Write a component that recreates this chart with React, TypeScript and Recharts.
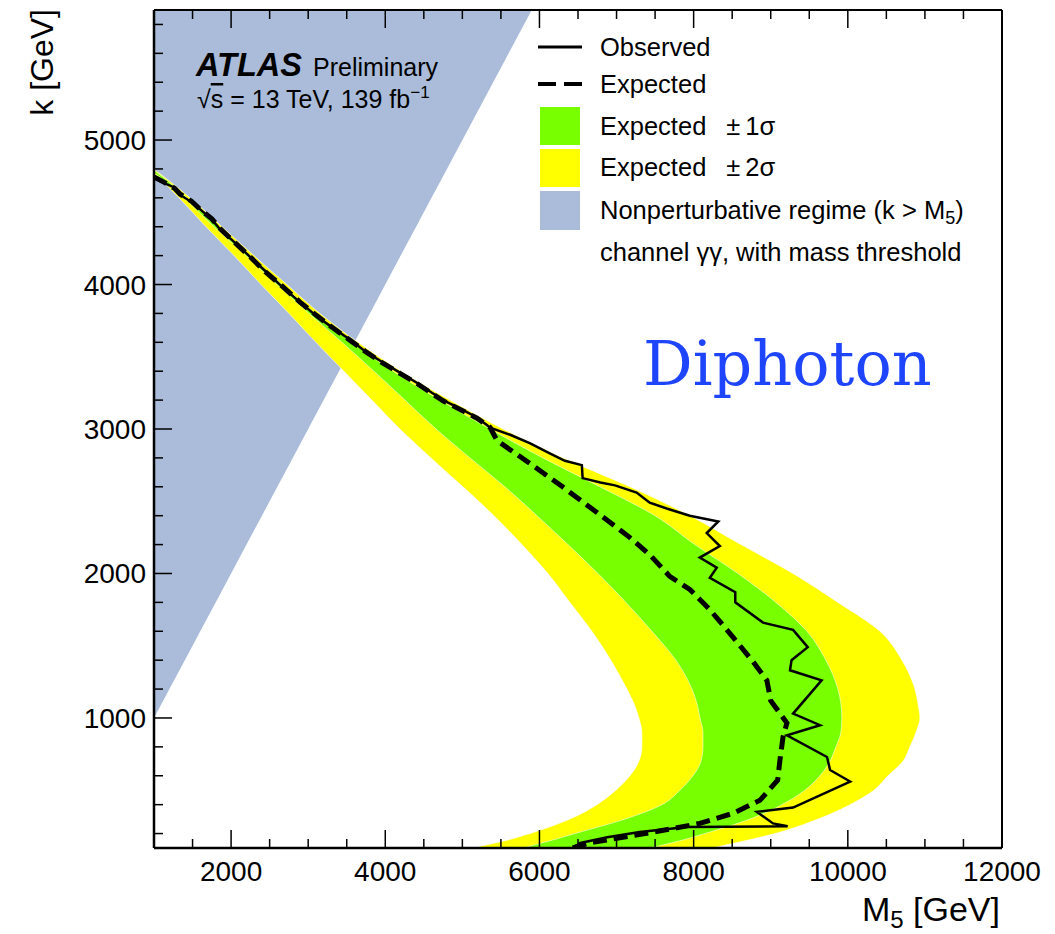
import React from 'react';
import { ComposedChart, Area, Scatter, XAxis, YAxis, Legend, Label } from 'recharts';

const W = 1039;
const H = 926;
const SANS = '"Liberation Sans", Arial, Helvetica, sans-serif';

// ---- axes ----
const X_DOMAIN: [number, number] = [1000, 12000];
const Y_DOMAIN: [number, number] = [100, 5900];
const xMajorTicks = [2000, 4000, 6000, 8000, 10000, 12000];
const xMinorTicks = [1500, 2500, 3000, 3500, 4500, 5000, 5500, 6500, 7000, 7500, 8500, 9000, 9500, 10500, 11000, 11500];
const yMajorTicks = [1000, 2000, 3000, 4000, 5000];
const yMinorTicks = [200, 400, 600, 800, 1200, 1400, 1600, 1800, 2200, 2400, 2600, 2800, 3200, 3400, 3600, 3800, 4200, 4400, 4600, 4800, 5200, 5400, 5600, 5800];

// ---- expected bands: M5 boundaries (GeV) at each k (GeV) ----
const kGrid = [100, 150, 200, 300, 400, 500, 600, 700, 800, 900, 1000, 1100, 1200, 1400, 1600, 1800, 2000, 2200, 2400, 2600, 2800, 3000, 3200, 3400, 3600, 3800, 4000, 4200, 4400, 4600, 4750, 4800];
const yellowLow = [5124, 5552, 5877, 6396, 6746, 6992, 7174, 7290, 7329, 7329, 7290, 7226, 7135, 6927, 6681, 6396, 6110, 5773, 5410, 5008, 4593, 4191, 3827, 3464, 3101, 2751, 2388, 2038, 1674, 1324, 1040, 930];
const greenLow = [5786, 6136, 6460, 7109, 7589, 7822, 7991, 8095, 8121, 8121, 8082, 8043, 7978, 7770, 7459, 7122, 6759, 6370, 5968, 5552, 5099, 4658, 4255, 3853, 3438, 3010, 2595, 2193, 1778, 1389, 1060, 945];
const greenHigh = [7433, 7822, 8147, 8730, 9145, 9443, 9638, 9768, 9845, 9910, 9923, 9910, 9871, 9716, 9469, 9067, 8574, 8017, 7498, 6785, 6045, 5358, 4709, 4100, 3568, 3088, 2660, 2245, 1843, 1428, 1100, 975];
const yellowHigh = [8237, 8665, 9054, 9612, 10027, 10338, 10520, 10715, 10805, 10883, 10935, 10909, 10870, 10702, 10416, 9871, 9288, 8613, 7952, 7174, 6305, 5527, 4839, 4204, 3646, 3153, 2725, 2297, 1882, 1467, 1120, 990];

// ---- nonperturbative regime k > M5 (k rows bounding the region) ----
const nonPertK = [1000, 5900];

// ---- observed limit [M5, k] ----
const observed: [number, number][] = [
  [1000, 4740], [1140, 4700], [1270, 4670], [1340, 4620], [1490, 4570], [1600, 4520], [1750, 4450], [1860, 4380],
  [2050, 4290], [2250, 4190], [2450, 4090], [2670, 3980], [2890, 3880], [3110, 3780], [3320, 3700], [3540, 3620],
  [3760, 3530], [3970, 3460], [4190, 3390], [4410, 3320], [4580, 3260], [4750, 3200], [5010, 3130], [5190, 3080],
  [5360, 3010], [5620, 2960], [5880, 2900], [6140, 2830], [6330, 2780], [6550, 2750], [6560, 2660], [6790, 2630],
  [6980, 2610], [7260, 2560], [7430, 2490], [7650, 2450], [7950, 2400], [8320, 2360], [8170, 2280], [8340, 2190],
  [8080, 2110], [8300, 2040], [8210, 1970], [8540, 1870], [8540, 1800], [8900, 1660], [9290, 1610], [9480, 1490],
  [9270, 1400], [9250, 1330], [9660, 1260], [9290, 1030], [9640, 950], [9210, 880], [9730, 730], [9770, 640],
  [10030, 560], [9290, 380], [8820, 350], [9030, 270], [9220, 250], [7910, 245], [7300, 210], [6880, 175],
  [6530, 135], [6430, 100],
];

// ---- expected limit [M5, k] ----
const expected: [number, number][] = [
  [1000, 4745], [1140, 4705], [1270, 4665], [1340, 4625], [1490, 4575], [1600, 4520], [1750, 4455], [1860, 4385],
  [2050, 4290], [2250, 4190], [2450, 4085], [2670, 3985], [2890, 3880], [3110, 3785], [3320, 3700], [3540, 3615],
  [3760, 3530], [3970, 3455], [4190, 3385], [4410, 3315], [4580, 3255], [4750, 3195], [5010, 3125], [5190, 3075],
  [5360, 3010], [5450, 2920], [5880, 2760], [6300, 2600], [6750, 2420], [7170, 2250], [7430, 2130], [7690, 1980],
  [7950, 1890], [8210, 1750], [8510, 1560], [8770, 1390], [8950, 1260], [9000, 1120], [9210, 965], [9160, 870],
  [9120, 710], [9090, 570], [8860, 430], [8510, 340], [8080, 270], [7430, 205], [6650, 135], [6430, 100],
];

// ---- build tables for the library ----
const kRows = Array.from(new Set([...kGrid, ...nonPertK])).sort((a, b) => a - b);
const bandTable = kRows.map((k) => {
  const i = kGrid.indexOf(k);
  const row: any = { k };
  if (i >= 0) {
    row.y2 = [yellowLow[i], yellowHigh[i]];
    row.g1 = [greenLow[i], greenHigh[i]];
  }
  if (k >= nonPertK[0]) row.np = [X_DOMAIN[0], k];
  return row;
});
const obsTable = observed.map(([m, k]) => ({ m, k }));
const expTable = expected.map(([m, k]) => ({ m, k }));

const YELLOW = '#ffff00';
const GREEN = '#78ff00';
const BLUE = '#aabcd9';

type Side = 'bottom' | 'top' | 'left' | 'right';
const MAJ = 18;
const MIN = 9;

function tickRenderer(side: Side, majors: number[], showLabel: boolean) {
  return (props: any) => {
    const { x, y, payload } = props;
    const v = Number(payload.value);
    const major = majors.includes(v);
    const len = major ? MAJ : MIN;
    let x2 = x;
    let y2 = y;
    if (side === 'bottom') y2 = y - len;
    if (side === 'top') y2 = y + len;
    if (side === 'left') x2 = x + len;
    if (side === 'right') x2 = x - len;
    return (
      <g>
        <line x1={x} y1={y} x2={x2} y2={y2} stroke="#000" strokeWidth={1.5} />
        {showLabel && major && side === 'bottom' && (
          <text x={x} y={y + 33} textAnchor="middle" fontSize={28} fontFamily={SANS} fill="#000">
            {v}
          </text>
        )}
        {showLabel && major && side === 'left' && (
          <text x={x - 8} y={y + 10} textAnchor="end" fontSize={28} fontFamily={SANS} fill="#000">
            {v}
          </text>
        )}
      </g>
    );
  };
}

const XTitle = (props: any) => {
  const vb = props.viewBox || { x: 146, y: 840, width: 848, height: 86 };
  return (
    <text x={vb.x + vb.width - 2} y={vb.y + 73} textAnchor="end" fontSize={34} fontFamily={SANS} fill="#000">
      M<tspan fontSize={24} dy={7}>5</tspan>
      <tspan dy={-7}> [GeV]</tspan>
    </text>
  );
};

const YTitle = (props: any) => {
  const vb = props.viewBox || { x: 0, y: 2, width: 146, height: 838 };
  const tx = vb.x + 45;
  const ty = 1;
  return (
    <text x={tx} y={ty} transform={`rotate(-90, ${tx}, ${ty})`} textAnchor="end" fontSize={32} fontFamily={SANS} fill="#000">
      k [GeV]
    </text>
  );
};

const LEG_FS = 25.5;
const legendRows = [39, 76, 118, 159, 202, 244];

const LegendBox = () => (
  <svg width={W} height={H} style={{ position: 'absolute', left: 0, top: 0, overflow: 'visible' }}>
    <g fontFamily={SANS} fontSize={LEG_FS} fill="#000">
      <line x1={530} x2={574} y1={legendRows[0]} y2={legendRows[0]} stroke="#000" strokeWidth={3} />
      <text x={592} y={legendRows[0] + 9}>Observed</text>

      <line x1={530} x2={574} y1={legendRows[1]} y2={legendRows[1]} stroke="#000" strokeWidth={4} strokeDasharray="18 8" />
      <text x={592} y={legendRows[1] + 9}>Expected</text>

      <rect x={532} y={99} width={40} height={38} fill={GREEN} />
      <text x={592} y={legendRows[2] + 9}>
        Expected<tspan dx={20}>±</tspan>
        <tspan dx={5}>1σ</tspan>
      </text>

      <rect x={532} y={141} width={40} height={38} fill={YELLOW} />
      <text x={592} y={legendRows[3] + 9}>
        Expected<tspan dx={20}>±</tspan>
        <tspan dx={5}>2σ</tspan>
      </text>

      <rect x={532} y={183} width={40} height={39} fill={BLUE} />
      <text x={592} y={legendRows[4] + 9}>
        Nonperturbative regime (k {'>'} M<tspan fontSize={18} dy={5}>5</tspan>
        <tspan dy={-5}>)</tspan>
      </text>

      <text x={592} y={legendRows[5] + 9}>channel γγ, with mass threshold</text>
    </g>
  </svg>
);

const Annotations = () => (
  <svg width={W} height={H} style={{ position: 'absolute', left: 0, top: 0, pointerEvents: 'none' }}>
    <text x={188} y={68} fontFamily={SANS} fontSize={32.5} fontWeight="bold" fontStyle="italic" fill="#000">
      ATLAS
    </text>
    <text x={305} y={68} fontFamily={SANS} fontSize={25} fill="#000">
      Preliminary
    </text>
    <text x={189} y={100} fontFamily={SANS} fontSize={25} fill="#000">
      √<tspan style={{ textDecoration: 'overline' }}>s</tspan> = 13 TeV, 139 fb
      <tspan fontSize={17} dy={-10}>−1</tspan>
    </text>
    <text x={635} y={377} fontFamily={'"DejaVu Serif", "Liberation Serif", serif'} fontSize={62} fill="#1f45fc">
      Diphoton
    </text>
  </svg>
);

const allXTicks = [...xMajorTicks, ...xMinorTicks].sort((a, b) => a - b);
const allYTicks = [...yMajorTicks, ...yMinorTicks].sort((a, b) => a - b);

export default function App() {
  return (
    <div style={{ position: 'relative', width: W, height: H }}>
      <ComposedChart
        width={W}
        height={H}
        data={bandTable}
        layout="vertical"
        margin={{ top: 1, right: 44, bottom: 0, left: 0 }}
      >
        <XAxis
          xAxisId={0}
          type="number"
          domain={X_DOMAIN}
          allowDataOverflow
          ticks={allXTicks}
          interval={0}
          orientation="bottom"
          height={86}
          tickSize={0}
          tickMargin={0}
          tickLine={false}
          axisLine={{ stroke: '#000', strokeWidth: 2.5 }}
          tick={tickRenderer('bottom', xMajorTicks, true)}
        >
          <Label content={XTitle} />
        </XAxis>
        <XAxis
          xAxisId="top"
          type="number"
          domain={X_DOMAIN}
          allowDataOverflow
          ticks={allXTicks}
          interval={0}
          orientation="top"
          height={1}
          tickSize={0}
          tickMargin={0}
          tickLine={false}
          axisLine={{ stroke: '#000', strokeWidth: 2 }}
          tick={tickRenderer('top', xMajorTicks, false)}
        />
        <YAxis
          yAxisId={0}
          type="number"
          dataKey="k"
          domain={Y_DOMAIN}
          allowDataOverflow
          reversed
          ticks={allYTicks}
          interval={0}
          orientation="left"
          width={146}
          tickSize={0}
          tickMargin={0}
          tickLine={false}
          axisLine={{ stroke: '#000', strokeWidth: 2.5 }}
          tick={tickRenderer('left', yMajorTicks, true)}
        >
          <Label content={YTitle} />
        </YAxis>
        <YAxis
          yAxisId="right"
          type="number"
          domain={Y_DOMAIN}
          allowDataOverflow
          reversed
          ticks={allYTicks}
          interval={0}
          orientation="right"
          width={1}
          tickSize={0}
          tickMargin={0}
          tickLine={false}
          axisLine={{ stroke: '#000', strokeWidth: 2 }}
          tick={tickRenderer('right', yMajorTicks, false)}
        />

        <Area dataKey="np" type="linear" fill={BLUE} fillOpacity={1} stroke="none" isAnimationActive={false} />
        <Area
          dataKey="y2"
          type="monotone"
          fill={YELLOW}
          fillOpacity={1}
          stroke="#ffffff"
          strokeOpacity={0.55}
          strokeWidth={1}
          isAnimationActive={false}
        />
        <Area
          dataKey="g1"
          type="monotone"
          fill={GREEN}
          fillOpacity={1}
          stroke="#ffffff"
          strokeOpacity={0.55}
          strokeWidth={1}
          isAnimationActive={false}
        />
        <Scatter
          data={expTable}
          dataKey="m"
          fill="#000"
          line={{ stroke: '#000', strokeWidth: 5, strokeDasharray: '14 7' }}
          lineType="joint"
          shape={() => <g />}
          isAnimationActive={false}
        />
        <Scatter
          data={obsTable}
          dataKey="m"
          fill="#000"
          line={{ stroke: '#000', strokeWidth: 2.5 }}
          lineType="joint"
          shape={() => <g />}
          isAnimationActive={false}
        />
        <Legend
          layout="vertical"
          align="center"
          verticalAlign="middle"
          wrapperStyle={{ left: 0, top: 0, width: W, height: H, pointerEvents: 'none' }}
          content={() => <LegendBox />}
        />
      </ComposedChart>
      <Annotations />
    </div>
  );
}
